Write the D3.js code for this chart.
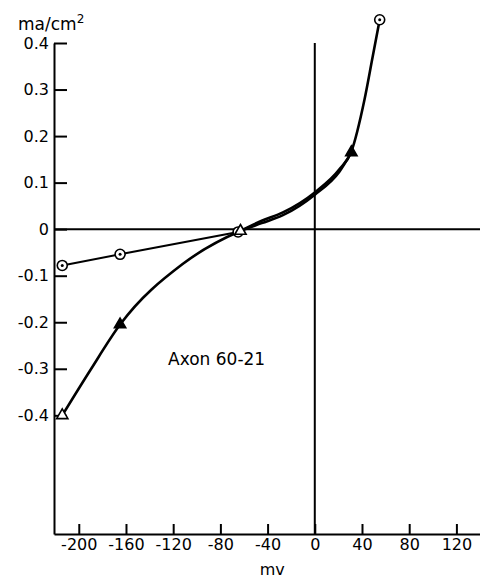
<!DOCTYPE html>
<html>
<head>
<meta charset="utf-8">
<script src="https://cdn.jsdelivr.net/npm/d3@7"></script>
<style>
  body { margin: 0; background: #fff; }
  svg text { font-family: "DejaVu Sans", "Liberation Sans", sans-serif; fill: #000; }
</style>
</head>
<body>
<script>
// tick values
var xTicks = [-200, -160, -120, -80, -40, 0, 40, 80, 120];
var yTicks = [0.4, 0.3, 0.2, 0.1, 0, -0.1, -0.2, -0.3, -0.4];

// measured points (circles)
var circleMv = [-214, -165, -65, 55];
var circleMa = [-0.078, -0.054, -0.006, 0.45];

// measured points (triangles)
var triMv = [-214, -165, -63, 31];
var triMa = [-0.40, -0.205, -0.004, 0.165];
var triOpen = [true, false, true, false];

// traced curve through circle points (right branch)
var circleCurveMv = [-65, -45, -27, 0, 21, 31, 42, 49, 55];
var circleCurveMa = [-0.006, 0.018, 0.036, 0.079, 0.129, 0.167, 0.277, 0.37, 0.45];

// traced curve through triangle points
var triCurveMv = [-214, -190, -165, -112, -63, -45, -27, 0, 21, 31];
var triCurveMa = [-0.40, -0.302, -0.205, -0.075, -0.004, 0.013, 0.030, 0.074, 0.124, 0.165];

var width = 480, height = 578;

var svg = d3.select("body").append("svg")
    .attr("width", width)
    .attr("height", height);

var x = d3.scaleLinear().domain([-221, 140]).range([54, 480]);
var y = d3.scaleLinear().domain([-0.655, 0.4]).range([534, 43]);

function fmt(v) {
    return v === 0 ? "0" : (v < 0 ? "-" : "") + Math.abs(v).toString();
}

// x axis
var gx = svg.append("g")
    .attr("transform", "translate(0," + y(-0.655) + ")")
    .call(d3.axisBottom(x).tickValues(xTicks).tickSizeInner(-10).tickSizeOuter(0)
        .tickPadding(5).tickFormat(fmt));

// y axis
var gy = svg.append("g")
    .attr("transform", "translate(" + x(-221) + ",0)")
    .call(d3.axisLeft(y).tickValues(yTicks).tickSizeInner(-13).tickSizeOuter(0)
        .tickPadding(5).tickFormat(fmt));

[gx, gy].forEach(function (g) {
    g.select(".domain").attr("stroke", "#000").attr("stroke-width", 2);
    g.selectAll(".tick line").attr("stroke", "#000").attr("stroke-width", 2);
    g.selectAll(".tick text").attr("font-size", 16).attr("fill", "#000")
        .attr("font-family", "DejaVu Sans, sans-serif");
});

// zero lines
svg.append("line")
    .attr("x1", x(-221)).attr("x2", x(140))
    .attr("y1", y(0)).attr("y2", y(0))
    .attr("stroke", "#000").attr("stroke-width", 2);
svg.append("line")
    .attr("x1", x(0)).attr("x2", x(0))
    .attr("y1", y(0.4)).attr("y2", y(-0.655))
    .attr("stroke", "#000").attr("stroke-width", 2);

// curves
var lineStraight = d3.line().x(function (d) { return x(d[0]); }).y(function (d) { return y(d[1]); });
var lineSmooth = d3.line().x(function (d) { return x(d[0]); }).y(function (d) { return y(d[1]); })
    .curve(d3.curveMonotoneX);

var circleLeft = circleMv.slice(0, 3).map(function (v, i) { return [v, circleMa[i]]; });
var circleRight = circleCurveMv.map(function (v, i) { return [v, circleCurveMa[i]]; });
var triCurve = triCurveMv.map(function (v, i) { return [v, triCurveMa[i]]; });

svg.append("path").attr("d", lineStraight(circleLeft))
    .attr("fill", "none").attr("stroke", "#000").attr("stroke-width", 2);
svg.append("path").attr("d", lineSmooth(circleRight))
    .attr("fill", "none").attr("stroke", "#000").attr("stroke-width", 2.6);
svg.append("path").attr("d", lineSmooth(triCurve))
    .attr("fill", "none").attr("stroke", "#000").attr("stroke-width", 2.6);

// circle markers
var cg = svg.append("g");
circleMv.forEach(function (v, i) {
    cg.append("circle").attr("cx", x(v)).attr("cy", y(circleMa[i])).attr("r", 5)
        .attr("fill", "#fff").attr("stroke", "#000").attr("stroke-width", 1.6);
    cg.append("circle").attr("cx", x(v)).attr("cy", y(circleMa[i])).attr("r", 1.5)
        .attr("fill", "#000");
});

// triangle markers
var tg = svg.append("g");
triMv.forEach(function (v, i) {
    tg.append("path")
        .attr("transform", "translate(" + x(v) + "," + y(triMa[i]) + ")")
        .attr("d", d3.symbol().type(d3.symbolTriangle).size(55)())
        .attr("fill", triOpen[i] ? "#fff" : "#000")
        .attr("stroke", "#000").attr("stroke-width", 1.6);
});

// labels
svg.append("text").attr("x", 18).attr("y", 30).attr("font-size", 17)
    .text("ma/cm").append("tspan").attr("dy", -7).attr("font-size", 12).text("2");
svg.append("text").attr("x", x(-36)).attr("y", 575).attr("font-size", 16)
    .attr("text-anchor", "middle").text("mv");
svg.append("text").attr("x", 168).attr("y", 365).attr("font-size", 17).text("Axon 60-21");
</script>
</body>
</html>
